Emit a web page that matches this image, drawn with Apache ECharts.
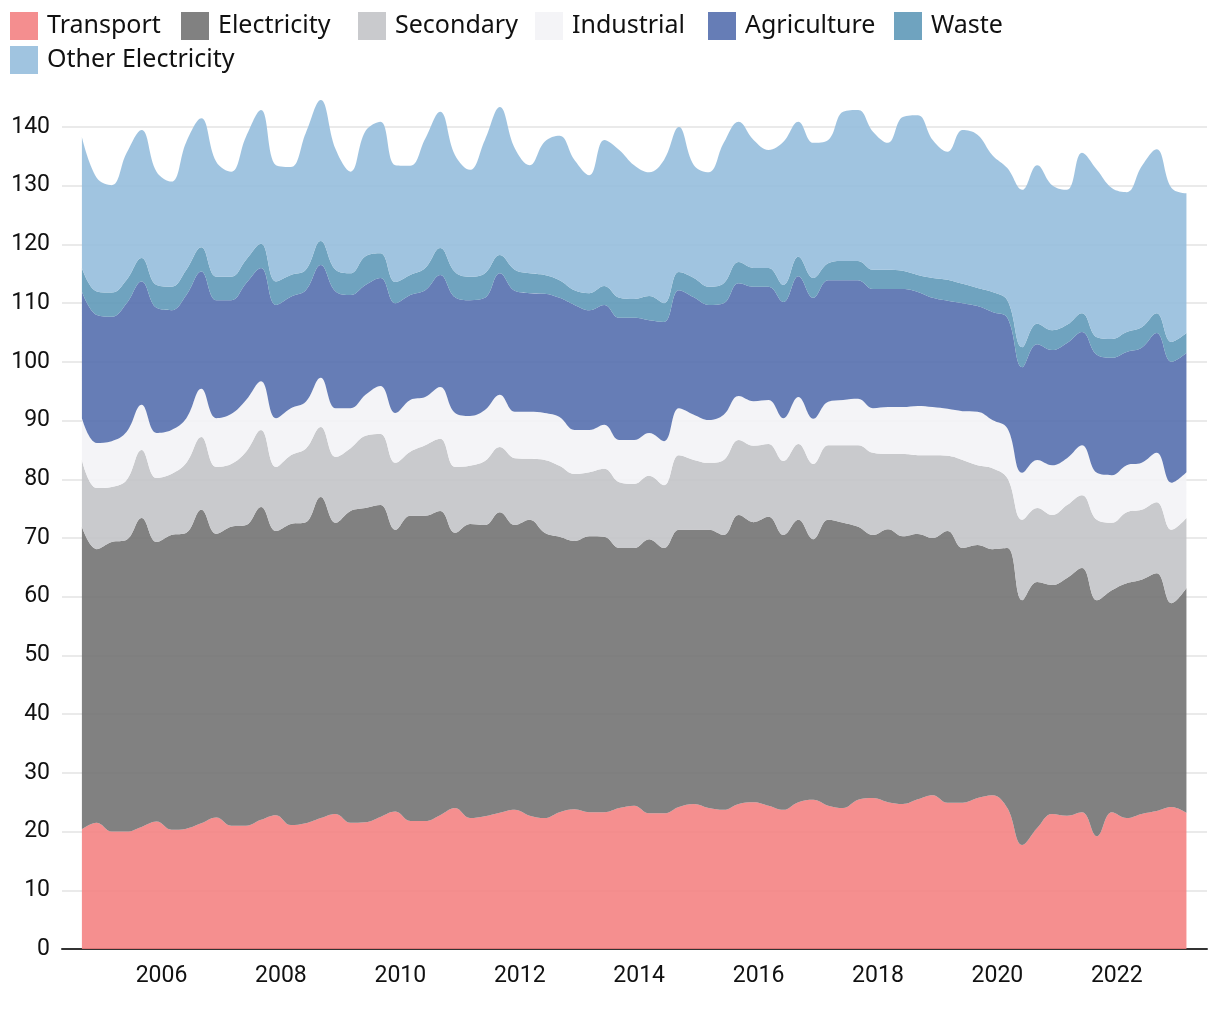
<!DOCTYPE html>
<html>
<head>
<meta charset="utf-8">
<script src="https://cdn.jsdelivr.net/npm/echarts@6/dist/echarts.min.js"></script>
<style>html,body{margin:0;padding:0;background:#fff}#chart{width:1220px;height:1020px}</style>
</head>
<body>
<div id="chart"></div>
<script>
const dates = [
'2004-09','2004-12',
'2005-03','2005-06','2005-09','2005-12',
'2006-03','2006-06','2006-09','2006-12',
'2007-03','2007-06','2007-09','2007-12',
'2008-03','2008-06','2008-09','2008-12',
'2009-03','2009-06','2009-09','2009-12',
'2010-03','2010-06','2010-09','2010-12',
'2011-03','2011-06','2011-09','2011-12',
'2012-03','2012-06','2012-09','2012-12',
'2013-03','2013-06','2013-09','2013-12',
'2014-03','2014-06','2014-09','2014-12',
'2015-03','2015-06','2015-09','2015-12',
'2016-03','2016-06','2016-09','2016-12',
'2017-03','2017-06','2017-09','2017-12',
'2018-03','2018-06','2018-09','2018-12',
'2019-03','2019-06','2019-09','2019-12',
'2020-03','2020-06','2020-09','2020-12',
'2021-03','2021-06','2021-09','2021-12',
'2022-03','2022-06','2022-09','2022-12',
'2023-03'
];
const transport = [20.4,21.5,20.0,20.0,20.8,21.7,20.3,20.5,21.4,22.4,
21.0,21.0,22.0,22.8,21.1,21.4,22.3,23.0,21.5,21.6,
22.5,23.4,21.8,21.8,22.8,24.0,22.3,22.6,23.2,23.7,
22.7,22.3,23.3,23.8,23.3,23.3,24.0,24.4,23.1,23.1,
24.2,24.7,24.0,23.7,24.7,25.0,24.4,23.7,25.0,25.4,
24.4,24.0,25.4,25.7,25.0,24.7,25.5,26.2,24.9,24.9,
25.7,26.2,24.0,17.7,20.6,23.0,22.7,23.3,19.2,23.3,
22.3,23.0,23.5,24.2,23.2];
const electricity = [51.5,46.6,49.3,49.7,52.6,47.6,50.2,50.4,53.4,48.3,
50.9,51.2,53.3,48.4,51.3,51.3,54.7,49.6,53.1,53.5,
53.1,48.0,52.0,52.0,51.8,46.9,50.1,49.6,51.2,48.5,
50.4,48.6,46.9,45.7,47.0,46.9,44.3,43.9,46.7,45.2,
47.2,46.7,47.4,46.8,49.2,47.7,49.2,46.8,48.1,44.4,
48.7,48.6,46.5,44.8,46.5,45.6,45.2,43.8,46.3,43.4,
43.1,41.9,44.3,41.7,41.9,39.0,40.5,41.6,40.2,37.8,
40.0,39.9,40.5,34.7,38.3];
const secondary = [11.4,10.4,9.4,10.2,11.6,10.9,10.4,11.9,12.4,11.4,
10.7,12.5,13.1,10.9,11.7,12.5,11.9,11.2,10.7,12.3,
12.1,11.4,10.9,12.0,12.3,11.2,9.9,10.9,11.1,11.4,
10.4,12.4,12.1,11.4,10.9,11.6,11.2,10.9,10.8,10.7,
12.7,11.9,11.4,12.8,12.8,13.0,12.4,12.6,12.9,12.8,
12.7,13.2,13.9,14.0,12.8,14.0,13.4,14.1,12.8,15.0,
13.6,13.8,11.9,13.7,12.6,11.9,12.4,12.4,13.7,11.5,
12.1,11.9,12.1,12.5,11.9];
const industrial = [7.1,7.7,7.8,8.2,7.7,7.7,7.5,7.6,8.2,8.3,
8.5,8.8,8.3,8.3,8.0,8.0,8.4,8.3,6.8,7.0,
8.2,8.5,8.8,8.2,8.8,9.2,8.5,8.7,8.9,7.9,
8.0,8.0,8.3,7.5,7.2,7.5,7.2,7.5,7.3,7.5,
8.0,7.7,7.3,7.7,7.5,7.6,7.5,7.3,8.0,7.7,
7.4,7.7,7.9,7.6,8.0,8.0,8.4,8.2,8.0,8.3,
9.1,8.2,8.5,8.0,8.2,8.5,8.0,8.5,8.0,8.1,
8.0,8.0,8.4,8.0,7.8];
const agriculture = [21.6,21.8,21.2,21.9,21.0,21.3,20.4,21.0,20.0,20.1,
19.4,19.9,19.3,19.3,19.0,19.0,19.2,19.9,19.3,18.7,
18.4,18.7,17.9,18.2,19.1,19.7,19.7,19.1,20.7,20.6,
20.2,20.3,20.3,21.3,20.4,20.4,20.8,20.8,19.2,20.3,
20.1,20.0,19.6,19.0,19.2,19.5,19.3,19.8,20.6,20.6,
20.7,20.4,20.2,20.3,20.1,20.1,19.4,18.6,18.4,18.4,
18.0,18.4,18.8,18.0,19.7,19.6,19.6,19.3,20.1,20.0,
19.3,19.6,20.4,20.6,20.3];
const waste = [4.0,4.0,4.1,4.0,4.0,3.9,4.0,4.3,4.1,4.0,
4.0,4.0,4.1,4.0,3.7,3.5,4.1,3.7,3.7,4.9,
4.2,3.6,3.4,3.8,4.6,4.3,4.0,4.2,3.1,3.6,
3.4,3.2,3.0,2.5,2.9,3.2,3.4,3.2,4.1,3.2,
3.1,3.3,3.1,3.4,3.6,3.2,3.2,2.9,3.3,3.4,
2.9,3.3,3.3,3.3,3.3,3.1,2.9,3.4,3.6,3.3,
3.1,3.4,3.0,3.4,3.5,3.4,3.1,3.2,3.0,3.2,
3.4,3.5,3.4,3.4,3.4];
const otherElectricity = [22.3,19.3,18.3,21.6,21.8,19.3,17.9,21.8,22.0,19.6,
17.9,21.0,22.8,19.8,18.4,23.3,24.0,20.5,17.3,21.3,
22.4,19.9,18.6,22.0,23.2,19.9,18.2,22.7,25.2,20.7,
18.4,22.7,24.6,22.2,20.1,24.9,25.2,22.8,21.1,24.4,
24.7,19.2,19.5,23.9,23.9,21.8,20.1,24.4,23.0,23.0,
21.0,25.4,25.7,23.5,21.6,26.2,27.2,23.5,21.8,26.2,
26.1,23.3,22.5,26.8,27.0,24.7,23.0,27.3,28.5,25.7,
23.8,27.4,27.9,26.2,23.8];
const xTickYears = [2006,2008,2010,2012,2014,2016,2018,2020,2022];
const yTicks = [0,10,20,30,40,50,60,70,80,90,100,110,120,130,140];

// convert 'YYYY-MM' to a fractional year position on the value axis
const toYear = s => { const p = s.split('-'); return +p[0] + (+p[1] - 1) / 12; };

const seriesDefs = [
  {name:'Transport', data:transport, color:'#f48e8f', fill:'rgba(244,127,128,0.88)', lx:10, ly:12},
  {name:'Electricity', data:electricity, color:'#818181', fill:'rgba(111,111,112,0.88)', lx:181, ly:12},
  {name:'Secondary', data:secondary, color:'#c9cacd', fill:'rgba(193,195,198,0.88)', lx:358, ly:12},
  {name:'Industrial', data:industrial, color:'#f4f4f7', fill:'rgba(242,242,246,0.88)', lx:535, ly:12},
  {name:'Agriculture', data:agriculture, color:'#667db6', fill:'rgba(81,107,172,0.88)', lx:708, ly:12},
  {name:'Waste', data:waste, color:'#6fa3bf', fill:'rgba(91,150,182,0.88)', lx:894, ly:12},
  {name:'Other Electricity', data:otherElectricity, color:'#a0c4e0', fill:'rgba(147,188,220,0.88)', lx:10, ly:46}
];

const gridColors = yTicks.map(() => '#e3e3e3').concat(['rgba(0,0,0,0)']);

const chart = echarts.init(document.getElementById('chart'), null, {renderer:'canvas'});
chart.setOption({
  animation: false,
  backgroundColor: '#fff',
  legend: seriesDefs.map(s => ({
    left: s.lx, top: s.ly, padding: 0,
    itemWidth: 28, itemHeight: 28,
    icon: 'rect', selectedMode: false,
    textStyle: {fontFamily: 'Noto Sans', fontSize: 25, color: '#111', padding: [0, 0, 0, 4]},
    data: [s.name]
  })),
  grid: {left: 62, right: 13, top: 100, bottom: 71, containLabel: false},
  xAxis: {
    type: 'value',
    min: 2004 + 4 / 12,
    max: 2023.511,
    axisLine: {show: true, lineStyle: {color: '#333', width: 2}},
    axisTick: {show: false},
    splitLine: {show: false},
    axisLabel: {
      customValues: xTickYears,
      formatter: v => String(Math.round(v)),
      fontFamily: 'Roboto', fontSize: 23, color: '#111', margin: 16
    }
  },
  yAxis: {
    type: 'value', min: 0, max: 144.6, interval: 10,
    axisLine: {show: false}, axisTick: {show: false},
    axisLabel: {
      formatter: v => (Math.abs(v % 10) < 1e-6 ? String(v) : ''),
      fontFamily: 'Roboto', fontSize: 23, color: '#111', margin: 12
    },
    splitLine: {show: true, lineStyle: {color: gridColors, width: 1.5}}
  },
  series: seriesDefs.map(s => ({
    name: s.name, type: 'line', stack: 'total',
    // value first so that the stacked dimension is the y value
    data: dates.map((d, i) => [s.data[i], toYear(d)]),
    encode: {x: 1, y: 0},
    smooth: 0.4, symbol: 'none', showSymbol: false,
    lineStyle: {width: 0},
    itemStyle: {color: s.color},
    areaStyle: {color: s.fill, opacity: 1},
    emphasis: {disabled: true}
  }))
});
</script>
</body>
</html>
